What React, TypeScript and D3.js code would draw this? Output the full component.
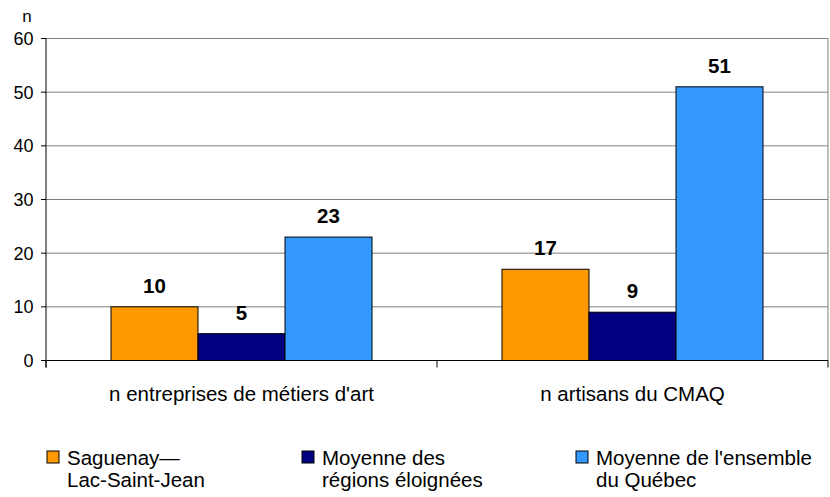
import React from "react";
import * as d3 from "d3";

const categories = ["n entreprises de métiers d'art", "n artisans du CMAQ"];
const seriesNames = [["Saguenay—", "Lac-Saint-Jean"], ["Moyenne des", "régions éloignées"], ["Moyenne de l'ensemble", "du Québec"]];
const seriesColors = ["#FF9900", "#000080", "#3399FF"];
const saguenay = [10, 17];
const eloignees = [5, 9];
const quebec = [23, 51];
const yTicks = [0, 10, 20, 30, 40, 50, 60];

export default function App() {
  const W = 830, H = 497;
  const left = 46, right = 828, top = 38.5, bottom = 360.5;
  const x0 = d3.scaleBand().domain(categories).range([left, right]).paddingInner(0).paddingOuter(0);
  const inner = d3.scaleBand().domain(["0", "1", "2"]).range([0, x0.bandwidth()]).paddingInner(0).paddingOuter(0.747);
  const y = d3.scaleLinear().domain([0, 60]).range([bottom, top]);
  const series = [saguenay, eloignees, quebec];
  const font = "Liberation Sans, Arial, sans-serif";
  const legendX = [47, 302, 576];
  return (
    <svg width={W} height={H} style={{ position: "absolute", left: 0, top: 0, background: "#fff" }} fontFamily={font}>
      <text x={27} y={22} fontSize={17} textAnchor="middle">n</text>
      {yTicks.map((t) => (
        <g key={t}>
          {t > 0 && <line x1={left} x2={right} y1={y(t)} y2={y(t)} stroke="#808080" strokeWidth={1} />}
          <line x1={left - 5} x2={left} y1={y(t)} y2={y(t)} stroke="#000" />
          <text x={33.5} y={y(t) + 6.5} fontSize={18} textAnchor="end">{t}</text>
        </g>
      ))}
      <line x1={right} x2={right} y1={top} y2={bottom} stroke="#808080" />
      {categories.map((c, ci) =>
        series.map((s, si) => {
          const bx = (x0(c) as number) + (inner(String(si)) as number);
          const bw = inner.bandwidth();
          return (
            <g key={c + si}>
              <rect x={bx} y={y(s[ci])} width={bw} height={bottom - y(s[ci])} fill={seriesColors[si]} stroke="#000" strokeWidth={1} />
              <text x={bx + bw / 2} y={y(s[ci]) - 14} fontSize={20.5} fontWeight="bold" textAnchor="middle">{s[ci]}</text>
            </g>
          );
        })
      )}
      <line x1={left} x2={left} y1={top} y2={bottom + 7} stroke="#000" />
      <line x1={left} x2={right} y1={bottom} y2={bottom} stroke="#000" />
      {[left, left + x0.bandwidth(), right].map((tx, i) => (
        <line key={i} x1={tx} x2={tx} y1={bottom} y2={bottom + 7} stroke="#000" />
      ))}
      {categories.map((c) => (
        <text key={c} x={(x0(c) as number) + x0.bandwidth() / 2} y={401} fontSize={20.5} textAnchor="middle">{c}</text>
      ))}
      {seriesNames.map((n, i) => (
        <g key={i}>
          <rect x={legendX[i]} y={451} width={12} height={12} fill={seriesColors[i]} stroke="#000" />
          <text x={legendX[i] + 20} y={465} fontSize={20.5}>{n[0]}</text>
          <text x={legendX[i] + 20} y={487} fontSize={20.5}>{n[1]}</text>
        </g>
      ))}
    </svg>
  );
}
